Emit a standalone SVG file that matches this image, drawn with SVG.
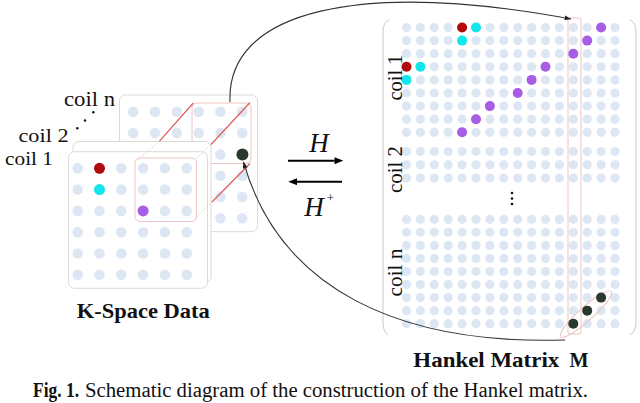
<svg xmlns="http://www.w3.org/2000/svg" width="640" height="403" viewBox="0 0 640 403">
<defs>
<style>
.card{fill:#fff;stroke:#dadada;stroke-width:1}
.win{fill:none;stroke:#ecc4c1;stroke-width:1}
.red{stroke:#dc5c5c;stroke-width:1.2;fill:none}
.dt{stroke:#bdbdbd;stroke-width:1;stroke-dasharray:1 2;fill:none}
.ld{fill:#dde7f3}
.t{font-family:"Liberation Serif","Times New Roman",serif;fill:#111}
.b{font-weight:bold}
.conn{fill:none;stroke:#333;stroke-width:1.1}
.op{fill:none;stroke:#000;stroke-width:2}
.br{fill:none;stroke:#c9c9c9;stroke-width:1}
.rd{fill:#b00a0a}
.cy{fill:#12e6ec}
.pu{fill:#a75de6}
.bk{fill:#2b382e}
</style>
<g id="krow">
<circle class="ld" cx="0" cy="0" r="5.3"/><circle class="ld" cx="21.8" cy="0" r="5.3"/><circle class="ld" cx="43.6" cy="0" r="5.3"/><circle class="ld" cx="65.4" cy="0" r="5.3"/><circle class="ld" cx="87.2" cy="0" r="5.3"/><circle class="ld" cx="109" cy="0" r="5.3"/>
</g>
<g id="mrow">
<circle class="ld" cx="406.5" cy="0" r="4.6"/><circle class="ld" cx="420.4" cy="0" r="4.6"/><circle class="ld" cx="434.3" cy="0" r="4.6"/><circle class="ld" cx="448.2" cy="0" r="4.6"/><circle class="ld" cx="462.1" cy="0" r="4.6"/><circle class="ld" cx="476" cy="0" r="4.6"/><circle class="ld" cx="489.9" cy="0" r="4.6"/><circle class="ld" cx="503.8" cy="0" r="4.6"/><circle class="ld" cx="517.7" cy="0" r="4.6"/><circle class="ld" cx="531.6" cy="0" r="4.6"/><circle class="ld" cx="545.5" cy="0" r="4.6"/><circle class="ld" cx="559.4" cy="0" r="4.6"/><circle class="ld" cx="573.3" cy="0" r="4.6"/><circle class="ld" cx="587.2" cy="0" r="4.6"/><circle class="ld" cx="601.1" cy="0" r="4.6"/><circle class="ld" cx="615" cy="0" r="4.6"/>
</g>
<marker id="ahB" viewBox="0 0 10 8" refX="0" refY="4" markerWidth="9" markerHeight="7" markerUnits="userSpaceOnUse" orient="auto"><path d="M0,0 L10,4 L0,8 z" fill="#000"/></marker>
<marker id="ahS" viewBox="0 0 10 8" refX="10" refY="4" markerWidth="7" markerHeight="5" markerUnits="userSpaceOnUse" orient="auto"><path d="M0,0 L10,4 L0,8 z" fill="#222"/></marker>
</defs>
<rect x="0" y="0" width="640" height="403" fill="#fff"/>

<g id="kspace">
<rect class="card" x="119.5" y="95" width="138" height="136.7" rx="6"/>
<use href="#krow" x="133.2" y="111.8"/><use href="#krow" x="133.2" y="133.1"/><use href="#krow" x="133.2" y="154.4"/><use href="#krow" x="133.2" y="175.7"/><use href="#krow" x="133.2" y="197"/><use href="#krow" x="133.2" y="218.3"/>
<circle class="bk" cx="242.4" cy="154.4" r="6"/>
<rect class="win" x="192" y="103" width="59" height="60.5" rx="5"/>
<rect class="card" x="73" y="141.5" width="138" height="141" rx="6"/>
<rect class="card" x="68.5" y="151.7" width="139" height="136.6" rx="6"/>
<use href="#krow" x="77.7" y="168.3"/><use href="#krow" x="77.7" y="189.6"/><use href="#krow" x="77.7" y="210.9"/><use href="#krow" x="77.7" y="232.2"/><use href="#krow" x="77.7" y="253.5"/><use href="#krow" x="77.7" y="274.8"/>
<circle class="rd" cx="99.5" cy="168.3" r="5.5"/>
<circle class="cy" cx="99.5" cy="189.6" r="5.5"/>
<circle class="pu" cx="143.1" cy="210.9" r="5.5"/>
<rect class="win" x="135" y="158" width="61.5" height="63.5" rx="5"/>
<path class="red" d="M159.3 141.3 L193.3 103 M211 144.5 L250 102.5 M212 202 L250 163.5"/>
<path class="dt" d="M138.5 159.5 L159.3 141.3 M196.5 158.5 L211 144.5 M196.5 217 L212 202"/>
<text class="t" x="64" y="106" font-size="20" textLength="51" lengthAdjust="spacingAndGlyphs">coil n</text>
<text class="t" x="18.5" y="142.3" font-size="19.5" textLength="50" lengthAdjust="spacingAndGlyphs">coil 2</text>
<text class="t" x="5" y="164.5" font-size="19.5" textLength="48" lengthAdjust="spacingAndGlyphs">coil 1</text>
<circle cx="93.3" cy="112.3" r="1.2" fill="#111"/><circle cx="85" cy="120.5" r="1.2" fill="#111"/><circle cx="77.3" cy="128.3" r="1.2" fill="#111"/>
<text class="t b" x="76.7" y="318.3" font-size="21" textLength="133" lengthAdjust="spacingAndGlyphs">K-Space Data</text>
</g>

<g id="operators">
<text class="t" x="319" y="151.7" font-size="27" font-style="italic" text-anchor="middle">H</text>
<text class="t" x="314" y="216" font-size="27" font-style="italic" text-anchor="middle">H</text>
<text class="t" x="330.5" y="202" font-size="13" text-anchor="middle">+</text>
</g>

<g id="matrix">
<path class="br" d="M389 20 Q383 22 383 32 L383 322 Q383 332 388 335"/>
<path class="br" d="M630 20 Q636 22 636 32 L636 322 Q636 332 630 335"/>
<use href="#mrow" y="27.5"/><use href="#mrow" y="40.6"/><use href="#mrow" y="53.7"/><use href="#mrow" y="66.8"/><use href="#mrow" y="79.9"/><use href="#mrow" y="93"/><use href="#mrow" y="106.1"/><use href="#mrow" y="119.2"/><use href="#mrow" y="132.3"/>
<use href="#mrow" y="151.5"/><use href="#mrow" y="164.8"/><use href="#mrow" y="178.1"/>
<use href="#mrow" y="219.3"/><use href="#mrow" y="232.35"/><use href="#mrow" y="245.4"/><use href="#mrow" y="258.45"/><use href="#mrow" y="271.5"/><use href="#mrow" y="284.55"/><use href="#mrow" y="297.6"/><use href="#mrow" y="310.65"/><use href="#mrow" y="323.7"/>
<rect class="win" x="568" y="18" width="13" height="316" rx="2"/>
<ellipse class="win" cx="586" cy="314" rx="34" ry="7" transform="rotate(-42 586 314)"/>
<circle class="rd" cx="462.1" cy="27.5" r="5"/><circle class="cy" cx="476" cy="27.5" r="5"/><circle class="pu" cx="601.1" cy="27.5" r="5"/>
<circle class="cy" cx="462.1" cy="40.6" r="5"/><circle class="pu" cx="587.2" cy="40.6" r="5"/>
<circle class="pu" cx="573.3" cy="53.7" r="5"/>
<circle class="rd" cx="406.5" cy="66.8" r="5"/><circle class="cy" cx="420.4" cy="66.8" r="5"/><circle class="pu" cx="545.5" cy="66.8" r="5"/>
<circle class="cy" cx="406.5" cy="79.9" r="5"/><circle class="pu" cx="531.6" cy="79.9" r="5"/>
<circle class="pu" cx="517.7" cy="93" r="5"/>
<circle class="pu" cx="489.9" cy="106.1" r="5"/>
<circle class="pu" cx="476" cy="119.2" r="5"/>
<circle class="pu" cx="462.1" cy="132.3" r="5"/>
<circle class="bk" cx="573.3" cy="323.7" r="5"/><circle class="bk" cx="587.2" cy="310.65" r="5"/><circle class="bk" cx="601.1" cy="297.6" r="5"/>
<circle cx="512" cy="193" r="1.3" fill="#111"/><circle cx="512" cy="198.5" r="1.3" fill="#111"/><circle cx="512" cy="204" r="1.3" fill="#111"/>
<text class="t" transform="translate(401.5 77.5) rotate(-90)" font-size="20" text-anchor="middle" textLength="46" lengthAdjust="spacingAndGlyphs">coil 1</text>
<text class="t" transform="translate(401.5 169.5) rotate(-90)" font-size="20" text-anchor="middle" textLength="47" lengthAdjust="spacingAndGlyphs">coil 2</text>
<text class="t" transform="translate(401.5 272.5) rotate(-90)" font-size="20" text-anchor="middle" textLength="48" lengthAdjust="spacingAndGlyphs">coil n</text>
<text class="t b" x="413.3" y="366.7" font-size="21" textLength="146" lengthAdjust="spacingAndGlyphs">Hankel Matrix</text>
<text class="t b" x="569.5" y="366.7" font-size="21" textLength="19" lengthAdjust="spacingAndGlyphs">M</text>
</g>

<g id="connectors">
<path class="conn" d="M230 102 C226 10 360 -20 571 19" marker-end="url(#ahS)"/>
<path class="conn" d="M565 340 C400 345 280 290 243.5 162" marker-end="url(#ahS)"/>
<line class="op" x1="288" y1="160.7" x2="334.5" y2="160.7" marker-end="url(#ahB)"/>
<line class="op" x1="342" y1="181.7" x2="297" y2="181.7" marker-end="url(#ahB)"/>
</g>

<g id="caption">
<text class="t b" x="33" y="396.5" font-size="20" textLength="46" lengthAdjust="spacingAndGlyphs">Fig. 1.</text>
<text class="t" x="85" y="396.5" font-size="20" textLength="503" lengthAdjust="spacingAndGlyphs">Schematic diagram of the construction of the Hankel matrix.</text>
</g>
</svg>
